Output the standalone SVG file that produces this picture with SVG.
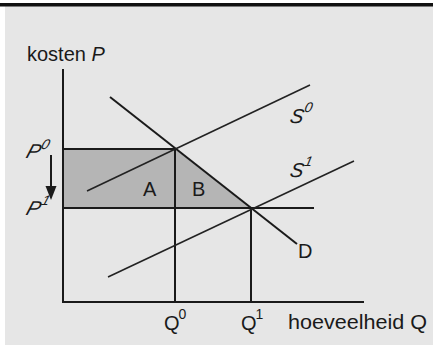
<svg xmlns="http://www.w3.org/2000/svg" width="433" height="345" viewBox="0 0 433 345">
<defs>
<style>
.ln{stroke:#1a1a1a;stroke-width:2;fill:none;stroke-linecap:butt}
.sl{stroke:#222;stroke-width:1.6;fill:none}
.t{font-family:"Liberation Sans",Arial,sans-serif;font-size:20px;fill:#1a1a1a}
.sk{font-style:italic}
.sup{font-size:14px}
</style>
</defs>
<rect x="0" y="0" width="433" height="345" fill="#ffffff"/>
<rect x="5" y="5" width="428" height="340" fill="#e6e6e6"/>
<rect x="0" y="3" width="433" height="3.5" fill="#111"/>
<g id="area">
<path d="M63,149 L175,149 L251,208 L63,208 Z" fill="#b5b5b5"/>
</g>
<g id="connectors">
<path class="ln" d="M63,69 L63,302 L364,302"/>
<path class="ln" d="M63,149 L175,149"/>
<path class="ln" d="M63,208 L314,208"/>
<path class="ln" d="M175,149 L175,302"/>
<path class="ln" d="M251,208 L251,302"/>
<path class="ln" d="M110,97 L297,244"/>
<path class="sl" d="M87,191 L310,85"/>
<path class="sl" d="M108,277 L354,161"/>
<path class="ln" d="M51,155 L51,188"/>
<path d="M45.5,186 L56.5,186 L51,200 Z" fill="#1a1a1a"/>
</g>
<g id="labels">
<text class="t" x="27" y="61" font-size="18">kosten <tspan class="sk">P</tspan></text>
<text class="t sk" transform="translate(25,158) skewX(-18)">P<tspan class="sup" dx="-1" dy="-9">0</tspan></text>
<text class="t sk" transform="translate(25,215) skewX(-18)">P<tspan class="sup" dx="-1" dy="-10">1</tspan></text>
<text class="t sk" transform="translate(289,123) skewX(-12)">S<tspan class="sup" dx="-1" dy="-11">0</tspan></text>
<text class="t sk" transform="translate(289,177) skewX(-12)">S<tspan class="sup" dx="-1" dy="-11">1</tspan></text>
<text class="t" x="143" y="196">A</text>
<text class="t" x="192" y="196">B</text>
<text class="t" x="298" y="258">D</text>
<text class="t" x="164" y="330">Q<tspan class="sup" dx="-1" dy="-11">0</tspan></text>
<text class="t" x="241" y="330">Q<tspan class="sup" dx="-1" dy="-11">1</tspan></text>
<text class="t" x="288" y="329" font-size="19" textLength="139" lengthAdjust="spacingAndGlyphs">hoeveelheid Q</text>
</g>
</svg>
